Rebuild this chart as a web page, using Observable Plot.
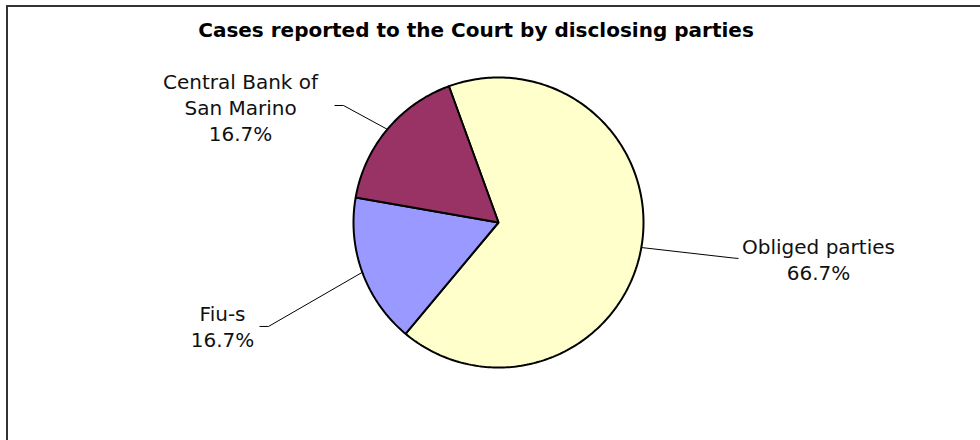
<!DOCTYPE html>
<html>
<head>
<meta charset="utf-8">
<script src="https://cdn.jsdelivr.net/npm/d3@7"></script>
<script src="https://cdn.jsdelivr.net/npm/@observablehq/plot@0.6"></script>
<style>
  html, body { margin: 0; padding: 0; background: #fff; }
  body { width: 980px; height: 440px; overflow: hidden; position: relative; }
  #frame {
    position: absolute; left: 6px; top: 5px; width: 1000px; height: 460px;
    border: 2px solid #333; box-sizing: border-box; background: #fff;
  }
  #title {
    height: 46px; line-height: 46px; text-align: center; padding-right: 60px;
    font-family: "DejaVu Sans", Verdana, sans-serif; font-weight: bold; font-size: 20px; color: #000;
  }
  #chart svg { display: block; }
</style>
</head>
<body>
<div id="frame">
  <div id="title">Cases reported to the Court by disclosing parties</div>
  <div id="chart"></div>
</div>
<script>
// Disclosing parties and their share of the cases reported to the Court (%)
const categories = ["Obliged parties", "Fiu-s", "Central Bank of\nSan Marino"];
const shares = [66.7, 16.7, 16.7];
const colors = ["#FFFFCC", "#9999FF", "#993366"];

// Chart geometry (pixels inside the plot area); pie radius is one unit
const W = 972, H = 387;
const cx = 490, cy = 169, R = 145;
const startAngle = -20; // degrees, clockwise from 12 o'clock

// Label placement in pie units (elbow of the leader, end of its stub, text centre)
const labelLayout = {
  "Obliged parties": {elbow: [1.62, -0.245], stub: [1.655, -0.248], text: [2.207, -0.248]},
  "Fiu-s": {elbow: [-1.586, -0.717], stub: [-1.648, -0.717], text: [-1.903, -0.71]},
  "Central Bank of\nSan Marino": {elbow: [-1.069, 0.807], stub: [-1.131, 0.807], text: [-1.779, 0.8]}
};

const total = d3.sum(shares);
const rad = (deg) => deg * Math.PI / 180;

// Slice outlines: centre followed by points along the arc
const slicePts = [];
const labelRows = [];
const leaderPts = [];
let a = startAngle;
categories.forEach((name, i) => {
  const span = shares[i] / total * 360;
  const a0 = a, a1 = a + span;
  slicePts.push({name, x: 0, y: 0});
  const n = Math.max(2, Math.ceil(span));
  for (let k = 0; k <= n; k++) {
    const t = rad(a0 + (a1 - a0) * k / n);
    slicePts.push({name, x: Math.sin(t), y: Math.cos(t)});
  }
  const mid = rad((a0 + a1) / 2);
  const L = labelLayout[name];
  leaderPts.push({name, x: Math.sin(mid), y: Math.cos(mid)});
  leaderPts.push({name, x: L.elbow[0], y: L.elbow[1]});
  leaderPts.push({name, x: L.stub[0], y: L.stub[1]});
  labelRows.push({name, x: L.text[0], y: L.text[1], label: `${name}\n${shares[i].toFixed(1)}%`});
  a = a1;
});

const chart = Plot.plot({
  width: W,
  height: H,
  margin: 0,
  x: {domain: [-cx / R, (W - cx) / R], axis: null},
  y: {domain: [-(H - cy) / R, cy / R], axis: null},
  color: {domain: categories, range: colors},
  style: {background: "transparent", overflow: "visible"},
  marks: [
    Plot.line(slicePts, {
      x: "x", y: "y", z: "name", fill: "name",
      stroke: "#000", strokeWidth: 2, curve: "linear-closed", strokeLinejoin: "miter"
    }),
    Plot.line(leaderPts, {x: "x", y: "y", z: "name", stroke: "#000", strokeWidth: 1, strokeLinecap: "butt"}),
    Plot.text(labelRows, {
      x: "x", y: "y", text: "label",
      fontFamily: "DejaVu Sans, Verdana, sans-serif", fontSize: 20,
      lineHeight: 1.3, textAnchor: "middle", lineAnchor: "middle", fill: "#111"
    })
  ]
});
document.getElementById("chart").appendChild(chart);
</script>
</body>
</html>
